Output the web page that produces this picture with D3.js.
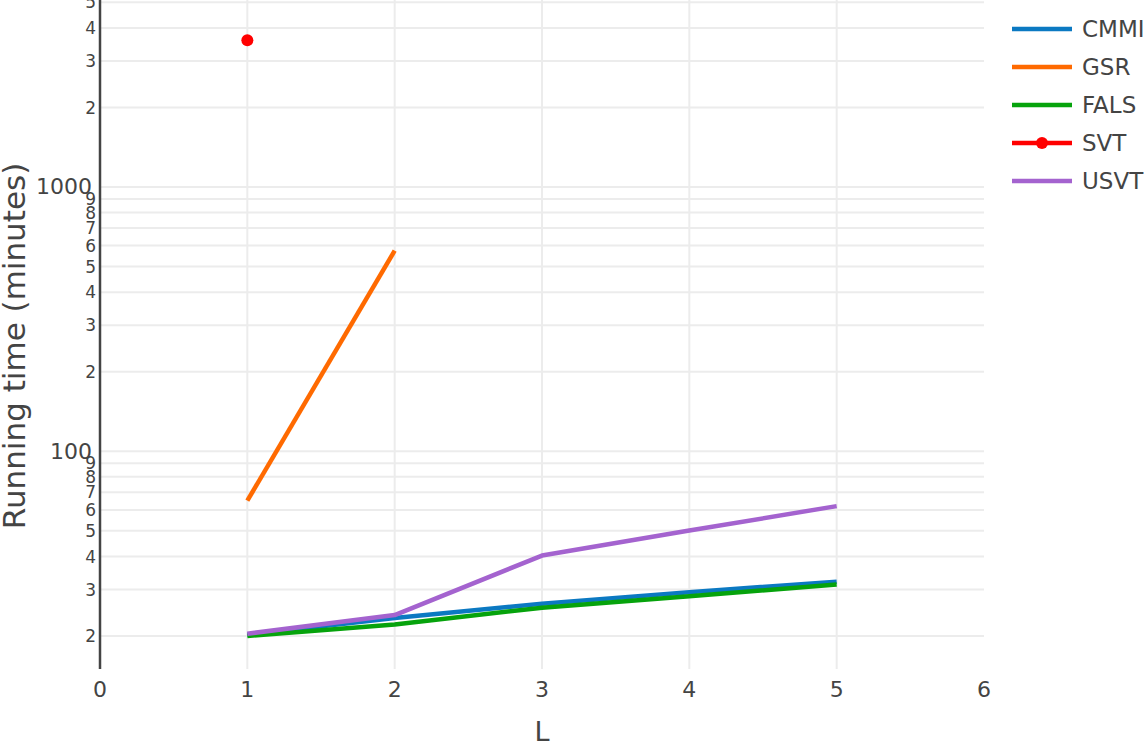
<!DOCTYPE html>
<html>
<head>
<meta charset="utf-8">
<script src="https://cdn.jsdelivr.net/npm/d3@7"></script>
<style>
  html, body { margin: 0; padding: 0; background: #fff; }
  svg { display: block; font-family: "DejaVu Sans", Verdana, sans-serif; }
</style>
</head>
<body>
<svg id="chart" width="1148" height="746"></svg>
<script>
// ---- data ----
const L = [1, 2, 3, 4, 5];
const seriesNames = ["CMMI", "GSR", "FALS", "SVT", "USVT"];
const cmmi = [20.2, 23.4, 26.5, 29.3, 32.1];
const gsr  = [65, 574];
const fals = [20.0, 22.1, 25.6, 28.3, 31.3];
const svt  = [3590];
const usvt = [20.4, 24.0, 40.3, 50.1, 62.0];
const xTicks = [0, 1, 2, 3, 4, 5, 6];
const yMajor = [100, 1000];
const yMinor = [20,30,40,50,60,70,80,90,200,300,400,500,600,700,800,900,2000,3000,4000,5000];
const colors = ["#0b79c2", "#ff6a00", "#06a30c", "#ff0000", "#a463cf"];

const svg = d3.select("#chart");
const pLeft = 100, pRight = 984, pTop = 0, pBottom = 669;

const x = d3.scaleLinear().domain([0, 6]).range([pLeft, pRight]);
const y = d3.scaleLog().domain([15, 5100]).range([pBottom, pTop]);

const grid = svg.append("g");
grid.selectAll("line.h").data(yMajor.concat(yMinor)).enter().append("line")
  .attr("x1", pLeft).attr("x2", pRight)
  .attr("y1", d => y(d)).attr("y2", d => y(d))
  .attr("stroke", "#ececec").attr("stroke-width", 2);
grid.selectAll("line.v").data(xTicks.filter(d => d > 0 && d < 6)).enter().append("line")
  .attr("x1", d => x(d)).attr("x2", d => x(d))
  .attr("y1", pTop).attr("y2", pBottom)
  .attr("stroke", "#ececec").attr("stroke-width", 2);

// y axis line
svg.append("line").attr("x1", pLeft).attr("x2", pLeft).attr("y1", pTop).attr("y2", pBottom)
  .attr("stroke", "#444").attr("stroke-width", 2.5);

// y tick labels
svg.append("g").selectAll("text").data(yMajor).enter().append("text")
  .attr("x", pLeft - 8).attr("y", d => y(d)).attr("dy", "0.33em")
  .attr("text-anchor", "end").attr("font-size", 22).attr("fill", "#444")
  .text(d => d);
svg.append("g").selectAll("text").data(yMinor).enter().append("text")
  .attr("x", pLeft - 4).attr("y", d => y(d)).attr("dy", "0.36em")
  .attr("text-anchor", "end").attr("font-size", 17).attr("fill", "#444")
  .text(d => String(d)[0]);

// x tick labels
svg.append("g").selectAll("text").data(xTicks).enter().append("text")
  .attr("x", d => x(d)).attr("y", 697)
  .attr("text-anchor", "middle").attr("font-size", 22).attr("fill", "#444")
  .text(d => d);

// axis titles
svg.append("text").attr("x", x(3)).attr("y", 741)
  .attr("text-anchor", "middle").attr("font-size", 27).attr("fill", "#444").text("L");
svg.append("text").attr("transform", "translate(25,346) rotate(-90)")
  .attr("text-anchor", "middle").attr("font-size", 31).attr("fill", "#444")
  .text("Running time (minutes)");

// series
const line = d3.line().x(d => x(d[0])).y(d => y(d[1]));
const plot = svg.append("g");
const data = [cmmi, gsr, fals, svt, usvt];
[0, 1, 2, 3, 4].forEach(i => {
  const pts = data[i].map((v, j) => [L[j], v]);
  if (pts.length > 1) {
    plot.append("path").datum(pts).attr("d", line)
      .attr("fill", "none").attr("stroke", colors[i]).attr("stroke-width", 4.5)
      .attr("stroke-linejoin", "round");
  } else {
    plot.selectAll(null).data(pts).enter().append("circle")
      .attr("cx", d => x(d[0])).attr("cy", d => y(d[1])).attr("r", 6)
      .attr("fill", colors[i]);
  }
});

// legend
const lg = svg.append("g");
seriesNames.forEach((name, i) => {
  const ly = 29 + i * 38;
  lg.append("line").attr("x1", 1012).attr("x2", 1072).attr("y1", ly).attr("y2", ly)
    .attr("stroke", colors[i]).attr("stroke-width", 4.5);
  if (name === "SVT") {
    lg.append("circle").attr("cx", 1042).attr("cy", ly).attr("r", 6).attr("fill", colors[i]);
  }
  lg.append("text").attr("x", 1082).attr("y", ly).attr("dy", "0.36em")
    .attr("font-size", 23).attr("fill", "#444").text(name);
});
</script>
</body>
</html>
